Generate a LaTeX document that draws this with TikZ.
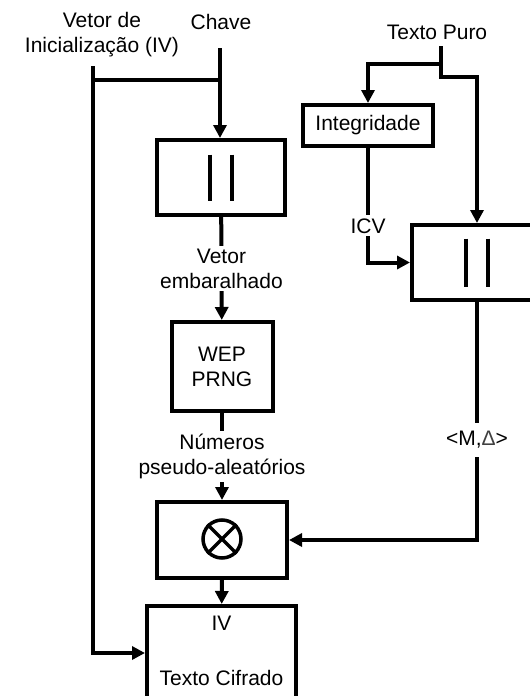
\documentclass[tikz,border=0pt]{standalone}
\usepackage{fontspec}
\setmainfont{Liberation Sans}
\usetikzlibrary{arrows.meta,positioning}
\begin{document}
\begin{tikzpicture}[x=1pt,y=1pt,
  every node/.style={font=\fontsize{21}{25}\selectfont, align=center},
  line/.style={line width=4pt, line cap=rect},
  arr/.style={line, -{Triangle[length=13pt,width=13pt]}},
  blk/.style={draw, line width=4pt, inner sep=0pt},
  lbl/.style={fill=white, inner sep=3pt}]
\useasboundingbox (0,0) rectangle (530,-696);
% texts at top
\node (iv) at (102,-35) {Vetor de\\Inicialização (IV)};
\node (chave) at (221,-22) {Chave};
\node (puro) at (437,-32) {Texto Puro};
% boxes
\node[blk, minimum width=128pt, minimum height=75pt] (box1) at (221,-177.5) {};
\node[blk, minimum width=101pt, minimum height=89pt] (wep) at (222,-366.5) {WEP\\PRNG};
\node[blk, minimum width=130pt, minimum height=76pt] (xor) at (222,-540) {};
\node[blk, minimum width=149pt, minimum height=94pt] (tc) at (221.5,-653) {};
\node (tciv) at (221.5,-623) {IV};
\node (tctxt) at (221.5,-678) {Texto Cifrado};
\node[blk, minimum width=130pt, minimum height=41pt] (integ) at (368,-125.5) {Integridade};
\node[blk, minimum width=130pt, minimum height=75pt] (rbox) at (477,-262.5) {};
% bars
\draw[line, line cap=butt] ([xshift=-11pt,yshift=23pt]box1.center) -- ++(0,-46);
\draw[line, line cap=butt] ([xshift=11pt,yshift=23pt]box1.center) -- ++(0,-46);
\draw[line, line cap=butt] ([xshift=-11pt,yshift=24pt]rbox.center) -- ++(0,-48);
\draw[line, line cap=butt] ([xshift=11pt,yshift=24pt]rbox.center) -- ++(0,-48);
% xor symbol
\node[draw, circle, line width=3.5pt, minimum size=38pt, inner sep=0pt] (xs) at (222,-539) {};
\draw[line width=3.5pt] (xs.north west) -- (xs.south east);
\draw[line width=3.5pt] (xs.north east) -- (xs.south west);
% coordinates
\coordinate (ivtop) at (93,-68);
\coordinate (ktop) at (220,-50);
\coordinate (kj) at (220,-80);
\coordinate (tp1) at (441,-48);
\coordinate (tpj) at (441,-64);
\coordinate (tp2) at (441,-77);
% connectors left
\draw[line] (ivtop |- kj) -- (kj);
\draw[arr] (ivtop) |- (tc);
\draw[arr] (ktop) -- (box1.north -| ktop);
\draw[arr] (box1) -- node[lbl]{Vetor\\embaralhado} (wep);
\draw[arr] (wep) -- node[lbl]{Números\\pseudo-aleatórios} (xor);
\draw[arr] (xor) -- (tc);
% connectors right
\draw[line] (tp1) -- (tp2);
\draw[arr] (tpj) -| (integ);
\draw[arr] (tp2) -| (rbox);
\draw[arr] (integ) |- node[lbl, pos=0.34]{ICV} (rbox);
\draw[arr] (rbox) |- node[lbl, inner sep=8pt, pos=0.29]{<M,\textcolor{black!75}{Δ}>} (xor);
\end{tikzpicture}
\end{document}
